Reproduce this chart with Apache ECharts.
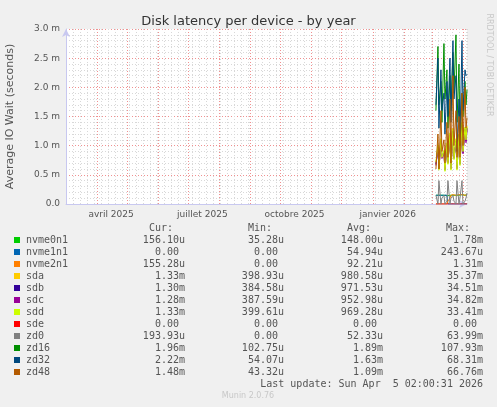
<!DOCTYPE html>
<html>
<head>
<meta charset="utf-8">
<script src="https://cdn.jsdelivr.net/npm/echarts@6/dist/echarts.min.js"></script>
<style>
  html, body { margin: 0; padding: 0; background: #f0f0f0; }
  #main { width: 497px; height: 407px; }
</style>
</head>
<body>
<div id="main"></div>
<script>
// x in days since 1 Mar 2025, the graph covers 400 days up to 5 Apr 2026
var monthStarts = [31, 61, 92, 122, 153, 184, 214, 245, 275, 306, 337, 365, 396];
var monthLabels = ['avril 2025', 'juillet 2025', 'octobre 2025', 'janvier 2026'];
var labelDays = [45, 136, 228, 321];
var days = [369, 371, 372, 374, 375, 377, 378, 380, 381, 383, 384, 386, 387, 389, 390, 392, 393, 395, 396, 398, 399, 400];

// values in milliseconds
var nvme0n1 = [0.15, 0.15, 0.14, 0.15, 0.16, 0.15, 0.15, 0.14, 0.15, 0.15, 0.16, 0.15, 0.15, 0.15, 0.14, 0.15, 0.15, 0.16, 0.15, 0.15, 0.15, 0.16];
var nvme1n1 = [0.15, 0.15, 0.15, 0.15, 0.15, 0.15, 0.15, 0.15, 0, 0, 0, 0, 0, 0, 0, 0, 0, 0, 0, 0, 0, 0];
var nvme2n1 = [0, 0, 0, 0, 0, 0, 0, 0, 0.05, 0.1, 0.15, 0.16, 0.16, 0.15, 0.16, 0.16, 0.15, 0.16, 0.16, 0.15, 0.16, 0.16];
var sda = [0.7, 1.0, 0.6, 1.1, 0.8, 0.9, 0.6, 1.0, 0.7, 1.2, 0.6, 1.3, 0.8, 1.1, 0.6, 1.2, 0.7, 1.4, 0.9, 1.3, 1.1, 1.33];
var sdb = [0.68, 0.95, 0.62, 1.05, 0.82, 0.88, 0.58, 1.02, 0.72, 1.15, 0.62, 1.25, 0.78, 1.08, 0.62, 1.18, 0.68, 1.35, 0.88, 1.28, 1.08, 1.30];
var sdc = [0.66, 0.98, 0.6, 1.08, 0.78, 0.86, 0.6, 0.98, 0.7, 1.18, 0.6, 1.22, 0.8, 1.05, 0.6, 1.15, 0.7, 1.3, 0.86, 1.26, 1.05, 1.28];
var sdd = [0.72, 1.02, 0.58, 1.12, 0.8, 0.92, 0.56, 1.05, 0.68, 1.22, 0.58, 1.28, 0.76, 1.12, 0.58, 1.2, 0.66, 1.38, 0.9, 1.32, 1.1, 1.33];
var sde = [0, 0, 0, 0, 0, 0, 0, 0, 0, 0, 0, 0, 0, 0, 0, 0, 0, 0, 0, 0, 0, 0];
var zd0 = [0.15, 0, 0.4, 0, 0.1, 0.15, 0, 0.05, 0.4, 0, 0.1, 0.15, 0.05, 0, 0.4, 0, 0.1, 0.4, 0, 0.05, 0.1, 0.19];
var zd16 = [1.6, 2.7, 1.7, 2.1, 1.4, 2.75, 1.8, 2.3, 1.3, 2.2, 1.6, 2.6, 1.9, 2.9, 1.4, 2.4, 1.0, 1.9, 1.5, 2.1, 1.7, 1.96];
var zd32 = [1.7, 2.5, 1.3, 2.3, 1.6, 1.9, 1.2, 2.1, 1.5, 2.5, 1.4, 2.8, 1.8, 2.2, 0.9, 1.8, 1.1, 2.8, 1.6, 2.3, 2.2, 2.22];
var zd48 = [0.6, 1.2, 0.6, 1.6, 0.9, 1.1, 0.7, 1.4, 0.8, 1.8, 0.7, 2.2, 1.0, 1.6, 0.8, 1.5, 0.8, 1.9, 1.0, 2.0, 1.3, 1.48];

var names = ['nvme0n1', 'nvme1n1', 'nvme2n1', 'sda', 'sdb', 'sdc', 'sdd', 'sde', 'zd0', 'zd16', 'zd32', 'zd48'];
var colors = ['#00cc00', '#0066b3', '#ff8000', '#ffcc00', '#330099', '#990099', '#ccff00', '#ff0000', '#808080', '#008f00', '#00487d', '#b35a00'];
var values = [nvme0n1, nvme1n1, nvme2n1, sda, sdb, sdc, sdd, sde, zd0, zd16, zd32, zd48];
var curCol = ['156.10u', '0.00 ', '155.28u', '1.33m', '1.30m', '1.28m', '1.33m', '0.00 ', '193.93u', '1.96m', '2.22m', '1.48m'];
var minCol = ['35.28u', '0.00 ', '0.00 ', '398.93u', '384.58u', '387.59u', '399.61u', '0.00 ', '0.00 ', '102.75u', '54.07u', '43.32u'];
var avgCol = ['148.00u', '54.94u', '92.21u', '980.58u', '971.53u', '952.98u', '969.28u', '0.00 ', '52.33u', '1.89m', '1.63m', '1.09m'];
var maxCol = ['1.78m', '243.67u', '1.31m', '35.37m', '34.51m', '34.82m', '33.41m', '0.00 ', '63.99m', '107.93m', '68.31m', '66.76m'];

var mono = '"DejaVu Sans Mono", monospace';
var sans = '"DejaVu Sans", sans-serif';

var series = names.map(function (n, i) {
    return {
        name: n,
        type: 'line',
        symbol: 'none',
        animation: false,
        z: 3,
        lineStyle: { width: 1, color: colors[i] },
        data: days.map(function (d, k) { return [d, values[i][k] / 1000]; })
    };
});
// red month lines, attached to the first series
series[0].markLine = {
    silent: true,
    symbol: 'none',
    animation: false,
    z: 1,
    label: { show: false },
    lineStyle: { color: '#f09090', type: [1, 2], width: 1 },
    data: monthStarts.map(function (d) { return { xAxis: d }; })
};

var graphic = [];
var rowY = 240;
[['Cur:', 173], ['Min:', 272], ['Avg:', 371], ['Max:', 470]].forEach(function (h) {
    graphic.push({ type: 'text', x: h[1], y: 228, style: { text: h[0], font: '10px ' + mono, fill: '#555', align: 'right', verticalAlign: 'middle' } });
});
names.forEach(function (n, i) {
    var y = rowY + i * 12;
    graphic.push({ type: 'rect', shape: { x: 14, y: y - 3, width: 6, height: 6 }, style: { fill: colors[i] } });
    graphic.push({ type: 'text', x: 26, y: y, style: { text: n, font: '10px ' + mono, fill: '#555', verticalAlign: 'middle' } });
    [[curCol, 185], [minCol, 284], [avgCol, 383], [maxCol, 483]].forEach(function (c) {
        graphic.push({ type: 'text', x: c[1], y: y, style: { text: c[0][i], font: '10px ' + mono, fill: '#555', align: 'right', verticalAlign: 'middle' } });
    });
});
graphic.push({ type: 'text', x: 483, y: 384, style: { text: 'Last update: Sun Apr  5 02:00:31 2026', font: '10px ' + mono, fill: '#555', align: 'right', verticalAlign: 'middle' } });
graphic.push({ type: 'text', x: 248, y: 396, style: { text: 'Munin 2.0.76', font: '8px ' + sans, fill: '#c8c8c8', align: 'center', verticalAlign: 'middle' } });
graphic.push({ type: 'text', x: 489, y: 65, rotation: -Math.PI / 2, style: { text: 'RRDTOOL / TOBI OETIKER', font: '8px ' + sans, fill: '#c8c8c8', align: 'center', verticalAlign: 'middle' } });

var chart = echarts.init(document.getElementById('main'));
chart.setOption({
    backgroundColor: '#f0f0f0',
    animation: false,
    title: {
        text: 'Disk latency per device - by year',
        left: 'center',
        top: 10,
        textStyle: { fontFamily: sans, fontSize: 13, fontWeight: 'normal', color: '#333' }
    },
    grid: { left: 66, top: 29, right: 30, bottom: 203, backgroundColor: '#fff', show: true, borderWidth: 0, outerBoundsMode: 'none', containLabel: false },
    xAxis: {
        type: 'value',
        min: 0,
        max: 400,
        interval: 7,
        axisLine: { lineStyle: { color: '#c8c8f0' }, symbol: ['none', 'arrow'], symbolSize: [6, 8] },
        axisTick: { show: false },
        axisLabel: {
            customValues: labelDays,
            formatter: function (v) { return monthLabels[labelDays.indexOf(v)] || ''; },
            color: '#555', fontFamily: sans, fontSize: 9, margin: 6
        },
        splitLine: { lineStyle: { color: '#d8d8d8', type: [1, 2] } }
    },
    yAxis: {
        type: 'value',
        min: 0,
        max: 0.003,
        interval: 0.0005,
        name: 'Average IO Wait (seconds)',
        nameLocation: 'middle',
        nameGap: 50,
        nameTextStyle: { color: '#555', fontFamily: sans, fontSize: 11 },
        axisLine: { show: true, lineStyle: { color: '#c8c8f0' }, symbol: ['none', 'arrow'], symbolSize: [6, 8] },
        axisTick: { show: false },
        axisLabel: {
            color: '#555', fontFamily: sans, fontSize: 9, margin: 6,
            formatter: function (v) { return v === 0 ? '0.0' : (v * 1000).toFixed(1) + ' m'; }
        },
        splitLine: { lineStyle: { color: '#f09090', type: [1, 2] } },
        minorTick: { show: false, splitNumber: 5 },
        minorSplitLine: { show: true, lineStyle: { color: '#d8d8d8', type: [1, 2] } }
    },
    series: series,
    graphic: graphic
});
</script>
</body>
</html>
